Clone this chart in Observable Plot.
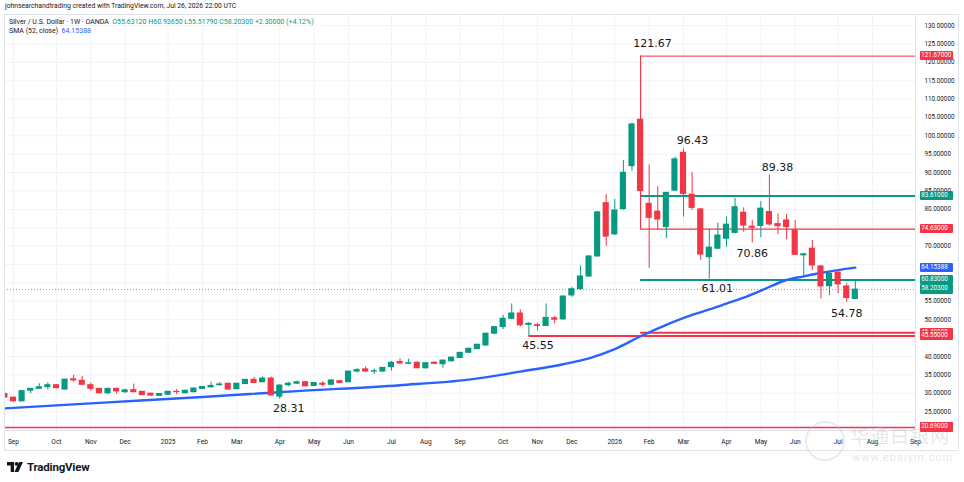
<!DOCTYPE html>
<html><head><meta charset="utf-8">
<script src="https://cdn.jsdelivr.net/npm/d3@7"></script>
<script src="https://cdn.jsdelivr.net/npm/@observablehq/plot@0.6"></script>
<style>
body{margin:0;background:#fff;font-family:Roboto,"Liberation Sans",sans-serif;}
#wrap{position:relative;width:964px;height:482px;overflow:hidden;background:#fff;}
#chart{position:absolute;left:0;top:0;}
.hdr{position:absolute;color:#131722;white-space:nowrap;font-family:Roboto,sans-serif;}
#outer{position:absolute;left:4px;top:14px;width:953px;height:435px;border:1px solid #e0e3eb;pointer-events:none;}
.badge{position:absolute;left:920px;width:33px;height:9.2px;border-radius:1px;color:#fff;font-size:6.3px;line-height:9.2px;font-family:Roboto,sans-serif;padding-left:1.3px;box-sizing:border-box;white-space:nowrap;overflow:hidden;}
</style></head><body>
<div id="wrap">
<div id="chart"></div>
<div id="outer"></div>
<div class="hdr" style="left:805px;top:421px;width:36px;height:36px;border:2px solid rgba(190,190,190,0.3);border-radius:50%;"></div>
<div class="hdr" style="left:850px;top:421px;font-size:19px;font-family:'Noto Sans CJK SC';color:rgba(170,170,170,0.3);letter-spacing:1px;">华通白银网</div>
<div class="hdr" style="left:852px;top:451px;font-size:11px;color:rgba(170,170,170,0.3);letter-spacing:1px;">www.ebaiyin.com</div>
<div id="badges"></div>
<div class="hdr" style="left:5px;top:2px;font-size:6.8px;">johnsearchandtrading created with TradingView.com, Jul 26, 2026 22:00 UTC</div>
<div class="hdr" style="left:9px;top:17.5px;font-size:7px;">Silver / U.S. Dollar · 1W · OANDA&nbsp; <span style="color:#089981">O55.63120 H60.93650 L55.51790 C58.20300 +2.30000 (+4.12%)</span></div>
<div class="hdr" style="left:9px;top:27px;font-size:7px;">SMA (52, close)&nbsp; <span style="color:#2962ff">64.15388</span></div>
<div class="hdr" style="left:7px;top:460px;display:flex;align-items:center;gap:4px;">
<svg width="16" height="11" viewBox="0 0 16 11"><path d="M0 0h7v10h-3.3v-6.6h-3.7z" fill="#131722"/><circle cx="9.6" cy="1.9" r="1.9" fill="#131722"/><path d="M12 0h4l-4.6 10h-4z" fill="#131722"/></svg>
<span style="font-size:11.5px;font-weight:700;letter-spacing:-0.2px;">TradingView</span></div>
</div>
<script>
// ---- data ----
const firstWeek = "2024-08-26";
const lastWeek = "2026-07-20";
const open = [29.8,28.8,27.8,30.7,31.2,31.65,32.2,31.0,33.8,33.4, 32.2,31.2,30.0,31.2,30.3,30.85,30.4,29.9,29.3,29.6, 30.4,30.0,30.3,31.2,31.6,32.2,32.6,31.1,32.5,33.65, 33.0,34.0,29.1,32.2,32.6,33.0,32.0,32.6,32.3,33.3, 33.0,35.9,36.5,35.9,35.9,37.1,38.5,38.0,38.3,36.8, 38.3,37.9,38.7,39.6,41.0,42.0,43.0,46.2,48.0,50.25, 51.7,48.6,48.5,48.3,50.4,50.1,56.6,58.3,61.75,67.2, 81.7,73.2,80.05,91.75,104.4,81.5,79.4,75.2,85.1,95.4, 84.0,80.0,67.0,69.3,72.0,73.6,79.1,75.3,75.5,79.3, 76.0,77.0,74.3,67.5,69.3,64.5,59.1,62.8,59.05,55.63];
const high = [30.0,29.0,30.7,31.3,32.6,32.85,32.3,33.7,34.9,34.6, 32.8,31.4,31.4,31.4,31.1,32.5,30.5,30.0,29.9,30.5, 31.0,30.8,31.4,31.8,33.0,32.9,32.7,32.7,33.7,34.3, 34.5,34.4,32.3,33.0,33.3,33.2,32.9,33.2,33.6,33.5, 36.0,36.8,37.2,36.6,37.0,38.65,39.4,39.3,38.5,38.3, 38.6,39.0,39.8,41.1,42.3,43.3,46.3,48.1,51.2,54.3, 52.7,49.2,49.0,54.3,50.9,56.5,58.85,64.65,67.5,79.5, 84.05,82.7,93.3,103.4,121.67,92.1,86.2,84.6,94.2,96.43, 90.0,80.3,74.5,76.25,77.9,83.0,80.4,77.0,82.1,89.38, 78.8,78.6,77.0,67.9,71.55,64.6,62.9,63.6,59.8,60.94];
const low = [28.7,27.6,27.7,29.9,31.1,30.9,31.2,30.9,33.0,32.2, 30.6,29.9,29.6,29.8,29.9,30.1,29.4,29.3,29.2,29.5, 29.6,29.9,30.1,31.1,31.5,31.9,30.9,31.0,32.4,32.7, 32.9,29.3,28.31,31.8,32.4,31.8,31.8,31.7,32.1,32.6, 32.9,35.5,35.6,35.1,35.7,36.0,37.75,37.9,36.7,36.6, 37.8,36.8,38.5,39.4,40.9,41.9,42.8,45.9,47.3,50.0, 48.0,45.55,46.9,48.2,48.9,49.8,56.1,58.0,61.6,67.0, 69.9,72.9,79.8,90.4,74.63,64.0,74.3,72.0,84.9,77.9, 79.7,66.1,61.01,69.0,69.7,73.3,73.8,70.86,72.3,75.5, 73.1,71.8,67.5,61.8,63.4,55.7,56.6,57.05,54.78,55.52];
const close = [28.85,27.8,30.6,31.2,31.65,32.2,31.4,33.7,33.5,32.3, 31.2,30.0,31.2,30.5,30.8,30.3,29.5,29.35,29.8,30.4, 30.3,30.7,31.3,31.7,32.0,32.4,31.0,32.6,33.65,32.8, 34.0,29.4,32.1,32.6,33.0,31.9,32.8,32.3,33.5,32.8, 35.9,36.3,35.9,36.0,36.9,38.3,38.1,38.15,36.8,38.2, 38.0,38.9,39.7,41.0,42.1,43.2,46.2,48.0,50.25,51.7, 48.5,48.9,48.3,50.5,50.0,56.3,58.3,61.75,67.2,79.2, 72.6,79.7,89.95,103.1,85.0,77.7,77.25,84.5,93.6,84.2, 80.4,67.7,69.6,72.9,75.85,80.6,75.6,75.0,80.2,75.9, 75.4,75.2,67.65,67.8,64.75,59.05,62.5,59.6,55.9,58.20];
// SMA(52, close) at these week indices
const smaWeek = [0,11,23,34,46,54,60,65,68,71,74,77,80,82,84,86,88,91,93,95,97,99];
const smaValue = [25.9,27.4,29.0,30.6,32.2,33.7,35.9,37.9,39.5,42.0,45.5,48.6,51.3,52.8,54.4,56.0,57.9,60.8,61.8,62.7,63.5,64.15];
// time-axis ticks
const monthTicks = ["2024-09-02","2024-10-07","2024-11-04","2024-12-02","2025-01-06","2025-02-03","2025-03-03","2025-04-07","2025-05-05","2025-06-02","2025-07-07","2025-08-04","2025-09-01","2025-10-06","2025-11-03","2025-12-01","2026-01-05","2026-02-02","2026-03-02","2026-04-06","2026-05-04","2026-06-01","2026-07-06","2026-08-03","2026-09-07"];
const monthLabels = ["Sep","Oct","Nov","Dec","2025","Feb","Mar","Apr","May","Jun","Jul","Aug","Sep","Oct","Nov","Dec","2026","Feb","Mar","Apr","May","Jun","Jul","Aug","Sep"];
const priceTicks = [25,30,35,40,50,55,70,80,85,90,95,100,105,110,115,120,125,130];
const gridTicks = [25,30,35,40,45,50,55,60,65,70,75,80,85,90,95,100,105,110,115,120,125,130];
// drawn levels: value, week index where the line starts (null = whole chart), kind
const levelValue = [121.67,83.61,74.63,60.83,46.48,45.55,20.69];
const levelStart = [74,74,74,74,74,61,null];
const levelKind = ["red","green","red","green","red","red","red"];
// annotated extremes: week index and value
const noteWeek = [74,79,89,87,82,98,61,32];
const noteValue = [121.67,96.43,89.38,70.86,61.01,54.78,45.55,28.31];
// right-axis price badges
const badgeValue = [121.67,83.61,74.63,64.15388,60.83,58.203,46.48,45.55,20.69];
const badgeKind = ["red","green","red","blue","green","green","red","red","red"];
const lastClose = 58.203;

// ---- build ----
const GREEN = "#089981", RED = "#f23645", BLUE = "#2962ff";
const kindColor = {red: RED, green: GREEN, blue: BLUE};
const DAY = 864e5;
const dates = d3.utcMonday.range(new Date(firstWeek), new Date(+new Date(lastWeek) + DAY));
const candles = dates.map((d, i) => ({date: d, open: open[i], high: high[i], low: low[i], close: close[i],
  color: close[i] >= open[i] ? GREEN : RED}));
const sma = smaWeek.map((w, i) => ({date: dates[w], v: smaValue[i]}));
const ticks = monthTicks.map(s => new Date(s));
const tickLabel = new Map(ticks.map((d, i) => [+d, monthLabels[i]]));

// layout of the time scale (weekly bar spacing of the reference)
const W = 964, H = 450, mL = 4, mR = 49, mT = 14, mB = 20;
const pxPerDay = 8.59 / 7;
const anchor = ticks[0]; // first Sep tick sits 9px right of the pane edge
const x0 = new Date(+anchor - 9 / pxPerDay * DAY);
const x1 = new Date(+anchor + (W - mR - mL - 9) / pxPerDay * DAY);
const halfBody = 2.5 * DAY;

const levels = levelValue.map((v, i) => ({v, start: levelStart[i] == null ? x0 : dates[levelStart[i]], color: kindColor[levelKind[i]]}));
const levelWidth = [1, 2, 1.3, 2, 2, 2, 1.6];
const notes = noteWeek.map((w, i) => ({date: dates[w], v: noteValue[i]}));
const noteOffset = [[12,-13],[9,-8.5],[8,-7],[0,10],[8,9],[0,11],[9,9.5],[9,9]];

const chart = Plot.plot({
  width: W, height: H,
  marginLeft: mL, marginRight: mR, marginTop: mT, marginBottom: mB,
  x: {type: "utc", domain: [x0, x1]},
  y: {domain: [19.88, 132.99], label: null},
  color: {type: "identity"},
  style: {fontFamily: "Roboto", fontSize: "6.4px", color: "#131722", background: "transparent", overflow: "visible"},
  marks: [
    Plot.gridX(ticks, {stroke: "#f0f3fa", strokeOpacity: 1}),
    Plot.gridY(gridTicks, {stroke: "#f0f3fa", strokeOpacity: 1}),
    Plot.frame({stroke: "#e0e3eb"}),
    Plot.axisX(ticks, {tickSize: 0, tickPadding: 9, label: null, tickFormat: d => tickLabel.get(+d), fill: "#131722", fontSize: 6.6}),
    Plot.axisY(priceTicks, {anchor: "right", tickSize: 0, tickPadding: 9, label: null, tickFormat: d => d.toFixed(5), fill: "#131722", fontSize: 6.3}),
    Plot.ruleY([lastClose], {stroke: GREEN, strokeOpacity: 0.7, strokeDasharray: "1,2", strokeWidth: 1}),
    ...levels.map((l, i) => Plot.ruleY([l], {y: "v", x1: "start", x2: () => x1, stroke: l.color, strokeWidth: levelWidth[i]})),
    Plot.ruleX([dates[74]], {y1: 74.63, y2: 121.67, stroke: RED, strokeWidth: 1}),
    Plot.line(sma, {x: "date", y: "v", stroke: BLUE, strokeWidth: 2.4, curve: "monotone-x", clip: true}),
    Plot.ruleX(candles, {x: "date", y1: "low", y2: "high", stroke: "color", strokeWidth: 1, clip: true}),
    Plot.rect(candles, {x1: d => new Date(+d.date - halfBody), x2: d => new Date(+d.date + halfBody),
      y1: "open", y2: "close", fill: "color", insetTop: -0.5, insetBottom: -0.5, clip: true}),
    ...notes.map((n, i) => Plot.text([n], {x: "date", y: "v", text: d => d.v.toFixed(2),
      dx: noteOffset[i][0], dy: noteOffset[i][1], fontSize: 11, fontFamily: "DejaVu Sans", fill: "#131722",
      textAnchor: "middle", lineAnchor: "middle"}))
  ]
});
document.getElementById("chart").appendChild(chart);

// price badges on the right axis, placed with the chart's own y scale
const yScale = chart.scale("y");
const badgeBox = document.getElementById("badges");
badgeValue.forEach((v, i) => {
  const b = document.createElement("div");
  b.className = "badge";
  b.style.top = (yScale.apply(v) - 4.6) + "px";
  b.style.background = kindColor[badgeKind[i]];
  b.textContent = v.toFixed(5);
  badgeBox.appendChild(b);
});
</script>
</body></html>
